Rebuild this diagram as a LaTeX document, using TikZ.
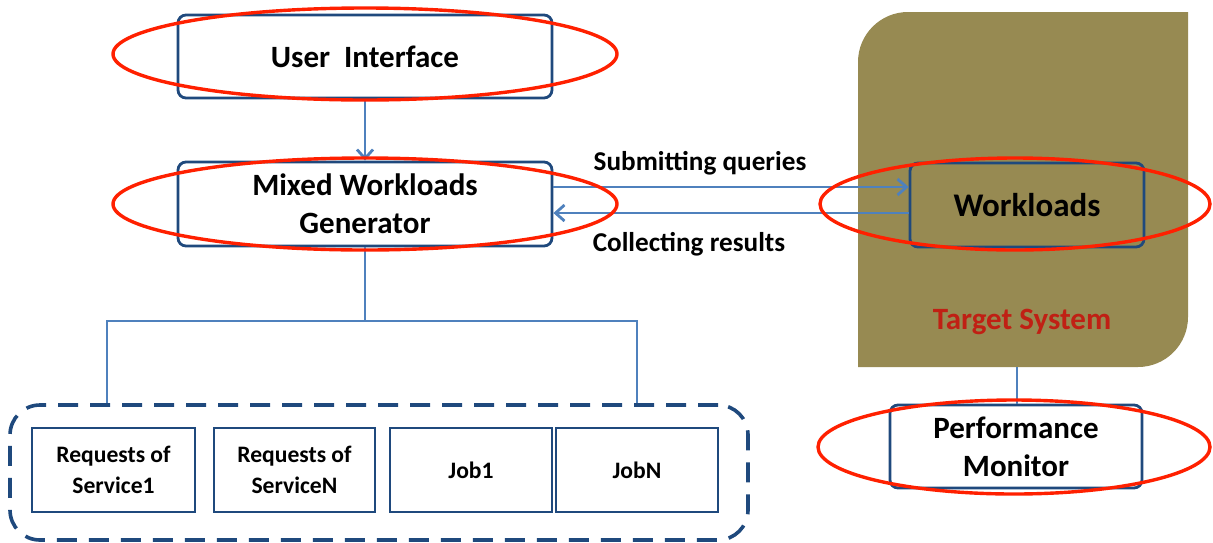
\documentclass[tikz,border=0pt]{standalone}
\usepackage{fontspec}
\setmainfont{Carlito}
\usetikzlibrary{arrows.meta}
\definecolor{boxblue}{RGB}{31,73,125}
\definecolor{linkblue}{RGB}{79,129,189}
\definecolor{markred}{RGB}{255,32,0}
\definecolor{tsolive}{RGB}{151,138,82}
\definecolor{tsred}{RGB}{192,32,20}
\tikzset{
  blockbox/.style={draw=boxblue, line width=1.4pt, rounded corners=4pt, align=center,
    font=\bfseries\fontsize{15.5}{19}\selectfont, inner sep=0pt},
  smallbox/.style={draw=boxblue, line width=1.3pt, align=center,
    minimum width=81pt, minimum height=42pt, inner sep=0pt,
    font=\bfseries\fontsize{11.8}{15.5}\selectfont},
  conn/.style={draw=linkblue, line width=1.4pt},
  tip/.style={-{Straight Barb[length=4.5pt,width=8pt]}},
  lbl/.style={font=\bfseries\fontsize{13.6}{15}\selectfont, inner sep=0pt},
  ring/.style={draw=markred, line width=1.7pt}
}
\begin{document}
\begin{tikzpicture}[x=0.5pt,y=-0.5pt]
\useasboundingbox (0,0) rectangle (1213,542);

% target system backdrop
\fill[tsolive] (858,367) -- (858,62) arc[start angle=180,end angle=90,radius=25pt]
  -- (1188,12) -- (1188,317) arc[start angle=0,end angle=-90,radius=25pt] -- cycle;
\node[font=\bfseries\fontsize{15.5}{17}\selectfont, text=tsred] (tslabel) at (1022,322) {Target System};
\coordinate (tsb) at (1017,367);

% main blocks
\node[blockbox, minimum width=187pt, minimum height=41.5pt] (ui) at (365,56.5) {User\ \ Interface};
\node[blockbox, minimum width=187pt, minimum height=42pt] (mwg) at (365,204) {Mixed Workloads\\Generator};
\node[blockbox, minimum width=117pt, minimum height=42pt, font=\bfseries\fontsize{16.5}{18}\selectfont] (wl) at (1027,205) {Workloads};
\node[blockbox, minimum width=126pt, minimum height=41.5pt] (perf) at (1016,446.5) {Performance\\Monitor};

% workload group
\node[draw=boxblue, line width=1.8pt, dash pattern=on 10pt off 6pt, rounded corners=15pt,
  minimum width=369pt, minimum height=67.5pt, inner sep=0pt] (grp) at (379,472.5) {};
\node[smallbox, minimum width=81.5pt] (req1) at (113.5,470) {Requests of\\Service1};
\node[smallbox, minimum width=80.5pt] (reqN) at (294.5,470) {Requests of\\ServiceN};
\node[smallbox] (job1) at (471,470) {Job1};
\node[smallbox] (jobN) at (637,470) {JobN};

% connectors
\draw[conn, tip] (ui.south) -- (mwg.north);
\coordinate (s1) at ([yshift=8.5pt]mwg.east);
\coordinate (s2) at (s1 -| wl.west);
\coordinate (c1) at ([yshift=-4.5pt]mwg.east);
\coordinate (c2) at (c1 -| wl.west);
\draw[conn, tip] (s1) -- (s2);
\draw[conn, tip] (c2) -- (c1);
\node[lbl] (sublbl) at (700,163) {Submitting queries};
\node[lbl] (collbl) at (689,244) {Collecting results};

\coordinate (busL) at (107,321);
\coordinate (busR) at (637,321);
\draw[conn] (mwg.south) -- (mwg.south |- busL);
\draw[conn] (busL |- grp.north) -- (busL) -- (busR) -- (busR |- grp.north);
\draw[conn] (tsb) -- (tsb |- perf.north);

% highlight rings
\draw[ring] (365,54) ellipse [x radius=126pt, y radius=23pt];
\draw[ring] (365,204) ellipse [x radius=126pt, y radius=23pt];
\draw[ring] (1015,204) ellipse [x radius=97.5pt, y radius=23pt];
\draw[ring] (1014,447) ellipse [x radius=98pt, y radius=23.5pt];
\end{tikzpicture}
\end{document}
